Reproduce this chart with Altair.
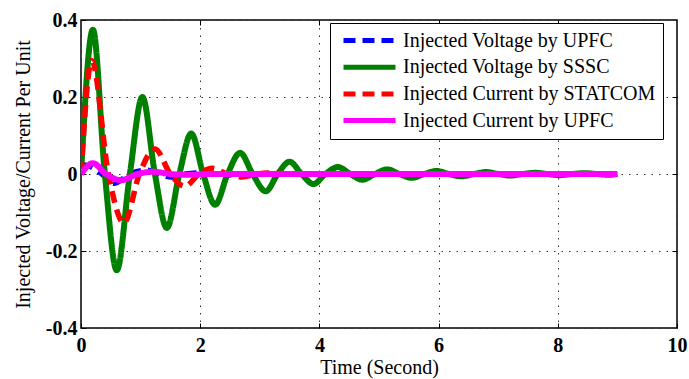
import altair as alt
import pandas as pd

SERIES = [
    "Injected Voltage by UPFC",
    "Injected Voltage by SSSC",
    "Injected Current by STATCOM",
    "Injected Current by UPFC",
]
COLORS = ["#0000FF", "#008000", "#FF0000", "#FF00FF"]
DASHES = [[12, 7], [1, 0], [12, 7], [1, 0]]
WIDTHS = [5.5, 6, 5.5, 6]

# Injected Voltage by UPFC (blue dashed)
upfc_v_t = [0, 0.15, 0.35, 0.55, 0.82, 1.12, 1.32, 1.52, 1.75, 2.0, 2.4, 9.0]
upfc_v_y = [0.025, 0.02, 0.0, -0.024, 0.0, 0.01, 0.0, -0.008, 0.0, 0.003, 0.0, 0.0]

# Injected Voltage by SSSC (green solid)
sssc_t = [0, 0.2, 0.4, 0.6, 0.82, 1.03, 1.24, 1.44, 1.65, 1.85, 2.05, 2.25, 2.46,
          2.67, 2.88, 3.1, 3.3, 3.5, 3.7, 3.9, 4.1, 4.31, 4.52, 4.72, 4.93, 5.14,
          5.34, 5.55, 5.76, 5.97, 6.17, 6.38, 6.59, 6.8, 7.0, 7.2, 7.41, 7.62,
          7.83, 8.03, 8.24, 8.45, 8.65, 8.85, 9.0]
sssc_y = [0.0, 0.375, 0.0, -0.25, 0.0, 0.2, 0.0, -0.14, 0.0, 0.105, 0.0, -0.08, 0.0,
          0.055, 0.0, -0.045, 0.0, 0.032, 0.0, -0.026, 0.0, 0.018, 0.0, -0.015, 0.0,
          0.012, 0.0, -0.01, 0.0, 0.008, 0.0, -0.006, 0.0, 0.005, 0.0, -0.004, 0.0,
          0.003, 0.0, -0.003, 0.0, 0.002, 0.0, -0.002, 0.0]

# Injected Current by STATCOM (red dashed)
statcom_t = [0, 0.18, 0.46, 0.72, 0.98, 1.24, 1.5, 1.74, 1.98, 2.2, 2.45, 2.7, 2.95, 3.2, 3.45, 9.0]
statcom_y = [0.0, 0.295, 0.0, -0.127, 0.0, 0.065, 0.0, -0.032, 0.0, 0.015, 0.0, -0.008, 0.0, 0.003, 0.0, 0.0]

# Injected Current by UPFC (magenta solid)
upfc_i_t = [0, 0.2, 0.42, 0.67, 0.95, 1.2, 1.5, 1.8, 2.2, 9.0]
upfc_i_y = [0.0, 0.028, 0.0, -0.016, 0.0, 0.006, 0.0, -0.002, 0.0, 0.0]

X_TICKS = [0, 2, 4, 6, 8, 10]
Y_TICKS = [-0.4, -0.2, 0, 0.2, 0.4]

rows = []
for name, ts, ys in zip(SERIES, [upfc_v_t, sssc_t, statcom_t, upfc_i_t],
                        [upfc_v_y, sssc_y, statcom_y, upfc_i_y]):
    for t, y in zip(ts, ys):
        rows.append({"series": name, "t": t, "y": y})
df = pd.DataFrame(rows)

FONT = "Liberation Serif"
x_scale = alt.Scale(domain=[0, 10], nice=False, zero=False)
y_scale = alt.Scale(domain=[-0.4, 0.4], nice=False, zero=False)

x_axis = alt.Axis(
    values=X_TICKS, title="Time (Second)", grid=True, gridDash=[1.5, 6],
    gridColor="#333333", gridWidth=1, domain=False, offset=-5, tickSize=5,
    tickColor="black", tickWidth=1, labelPadding=7, labelFont=FONT, labelFontSize=20,
    labelFontWeight="bold", labelColor="black", titleFont=FONT, titleFontSize=20,
    titleFontWeight="normal", titleColor="black", titlePadding=2, labelFlush=False,
)
y_axis = alt.Axis(
    values=Y_TICKS, title="Injected Voltage/Current Per Unit", grid=True,
    gridDash=[1.5, 6], gridColor="#333333", gridWidth=1, domain=False, offset=-5,
    tickSize=5, tickColor="black", tickWidth=1, labelPadding=4, labelFont=FONT,
    labelFontSize=20, labelFontWeight="bold", labelColor="black", titleFont=FONT,
    titleFontSize=20, titleFontWeight="normal", titleColor="black", titlePadding=12,
    labelExpr="datum.value == 0 ? '0' : (datum.value < 0 ? '-' + format(-datum.value, '.1f') : format(datum.value, '.1f'))",
)

legend = alt.Legend(
    title=None, orient="none", legendX=249, legendY=3, symbolType="stroke",
    symbolSize=2704, symbolStrokeWidth=5, labelFont=FONT, labelFontSize=20,
    labelColor="black", fillColor="white", strokeColor="black", padding=7.5,
    rowPadding=6.7, labelOffset=5, labelLimit=400, symbolOffset=3.5, clipHeight=20,
)

color = alt.Color("series:N", scale=alt.Scale(domain=SERIES, range=COLORS), legend=legend)
dash = alt.StrokeDash("series:N", scale=alt.Scale(domain=SERIES, range=DASHES), legend=legend)

layers = []
for i, name in enumerate(SERIES):
    layers.append(
        alt.Chart(df)
        .transform_filter(alt.datum.series == name)
        .mark_line(interpolate="monotone", strokeWidth=WIDTHS[i], clip=True)
        .encode(
            x=alt.X("t:Q", scale=x_scale, axis=x_axis),
            y=alt.Y("y:Q", scale=y_scale, axis=y_axis),
            color=color,
            strokeDash=dash,
        )
    )
lines = alt.layer(*layers)

frame_ticks = alt.Chart(df).mark_point(opacity=0).encode(
    x=alt.X("t:Q", scale=x_scale, axis=alt.Axis(
        orient="top", values=[2, 4, 6, 8], labels=False, grid=False, domain=False,
        title=None, offset=-5, tickSize=5, tickColor="black", tickWidth=1)),
    y=alt.Y("y:Q", scale=y_scale, axis=alt.Axis(
        orient="right", values=[-0.2, 0, 0.2], labels=False, grid=False, domain=False,
        title=None, offset=-5, tickSize=5, tickColor="black", tickWidth=1)),
)

chart = (
    alt.layer(lines, frame_ticks)
    .resolve_scale(x="independent", y="independent")
    .properties(
        width=596, height=308,
        autosize=alt.AutoSizeParams(type="none"),
        padding={"left": 81, "top": 20, "right": 12, "bottom": 51},
        background="white",
    )
    .configure(font=FONT)
    .configure_view(stroke="black", strokeWidth=1.5)
)

chart.save("out.html", embed_options={"renderer": "svg", "actions": False})
